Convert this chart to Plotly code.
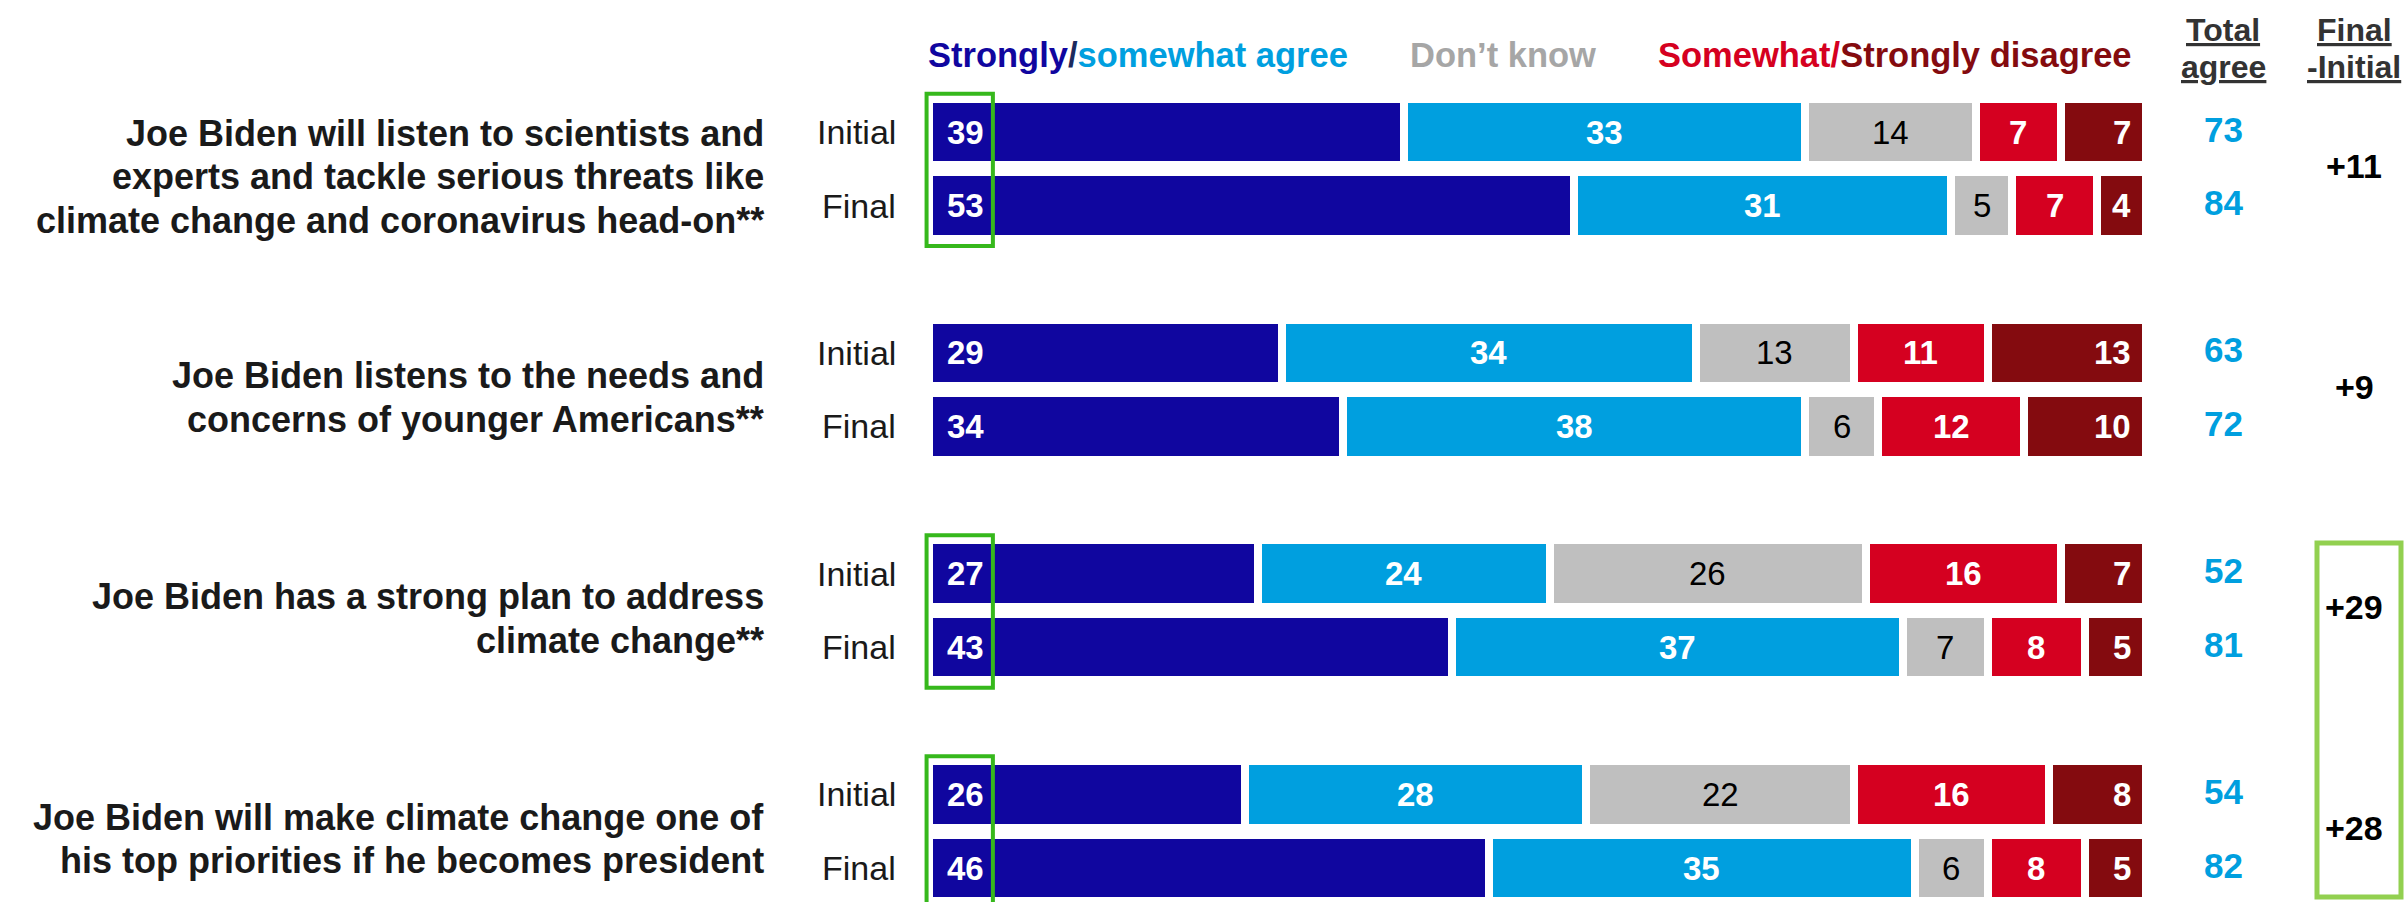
import plotly.graph_objects as go

# ---------------- data ----------------
questions = [
    "Joe Biden will listen to scientists and<br>experts and tackle serious threats like<br>climate change and coronavirus head-on**",
    "Joe Biden listens to the needs and<br>concerns of younger Americans**",
    "Joe Biden has a strong plan to address<br>climate change**",
    "Joe Biden will make climate change one of<br>his top priorities if he becomes president",
]
waves = ["Initial", "Final"]

strongly_agree = [39, 53, 29, 34, 27, 43, 26, 46]
somewhat_agree = [33, 31, 34, 38, 24, 37, 28, 35]
dont_know = [14, 5, 13, 6, 26, 7, 22, 6]
somewhat_disagree = [7, 7, 11, 12, 16, 8, 16, 8]
strongly_disagree = [7, 4, 13, 10, 7, 5, 8, 5]
total_agree = [73, 84, 63, 72, 52, 81, 54, 82]
change = ["+11", "+9", "+29", "+28"]
highlight = [True, False, True, True]

# ---------------- style ----------------
W, H = 2405, 902
FONT = "Liberation Sans, Arial, sans-serif"
C_DBLUE = "#10069F"
C_LBLUE = "#009FDF"
C_GRAY = "#BFBFBF"
C_RED = "#D50020"
C_DRED = "#840B0F"
C_TXT = "#1A1A1A"

# layout geometry (pixel -> data)
X0_PX, X_SCALE = 929.0, 12.17
Y0_PX, Y_SCALE = 132.0, 73.6


def px2paper_x(px):
    return px / W


def px2paper_y(py):
    return 1 - py / H


# bar positions: groups of two bars
ypos = []
for g in range(len(questions)):
    for w in range(len(waves)):
        ypos.append(g * 3 + w)

series = [
    ("Strongly agree", strongly_agree, C_DBLUE, "white", True, "start"),
    ("Somewhat agree", somewhat_agree, C_LBLUE, "white", True, "middle"),
    ("Don't know", dont_know, C_GRAY, "black", False, "middle"),
    ("Somewhat disagree", somewhat_disagree, C_RED, "white", True, "middle"),
    ("Strongly disagree", strongly_disagree, C_DRED, "white", True, "end"),
]

fig = go.Figure()
ann = []
cum = [0] * len(ypos)
for name, vals, col, tcol, bold, anchor in series:
    fig.add_trace(go.Bar(
        name=name, x=vals, y=ypos, orientation="h", width=0.9,
        marker=dict(color=col, line=dict(color="white", width=8)),
        hoverinfo="skip",
    ))
    for i, v in enumerate(vals):
        txt = f"<b>{v}</b>" if bold else str(v)
        if anchor == "start":
            xx, xa, xs = cum[i], "left", 16
        elif anchor == "end":
            xx, xa, xs = cum[i] + v, "right", -13
        else:
            xx, xa, xs = cum[i] + v / 2, "center", 0
        ann.append(dict(xref="x", yref="y", x=xx, y=ypos[i], xanchor=xa, yanchor="middle",
                        xshift=xs, showarrow=False, text=txt,
                        font=dict(family=FONT, size=33, color=tcol)))
        cum[i] += v

# wave labels and total agree
for i, y in enumerate(ypos):
    ypx = Y0_PX + y * Y_SCALE
    ann.append(dict(xref="paper", yref="paper", x=px2paper_x(898), y=px2paper_y(ypx),
                    xanchor="right", yanchor="middle", showarrow=False,
                    text=waves[i % 2], font=dict(family=FONT, size=34, color=C_TXT)))
    ann.append(dict(xref="paper", yref="paper", x=px2paper_x(2223), y=px2paper_y(ypx - 3),
                    xanchor="center", yanchor="middle", showarrow=False,
                    text=f"<b>{total_agree[i]}</b>", font=dict(family=FONT, size=35, color=C_LBLUE)))

# question labels (one annotation per line) and change values
for g, q in enumerate(questions):
    center_px = Y0_PX + (g * 3 + 0.5) * Y_SCALE + 8
    lines = q.split("<br>")
    n = len(lines)
    for k, line in enumerate(lines):
        lp = center_px + (k - (n - 1) / 2) * 43.5
        ann.append(dict(xref="paper", yref="paper", x=px2paper_x(766), y=px2paper_y(lp),
                        xanchor="right", yanchor="middle", showarrow=False,
                        text=f"<b>{line}</b>", font=dict(family=FONT, size=36, color=C_TXT)))
    ann.append(dict(xref="paper", yref="paper", x=px2paper_x(2354),
                    y=px2paper_y(Y0_PX + (g * 3 + 0.5) * Y_SCALE - 3),
                    xanchor="center", yanchor="middle", showarrow=False,
                    text=f"<b>{change[g]}</b>", font=dict(family=FONT, size=34, color="black")))

# header legend
HF = 34.5
ann.append(dict(xref="paper", yref="paper", x=px2paper_x(926), y=px2paper_y(55),
                xanchor="left", yanchor="middle", showarrow=False,
                text=f"<b><span style='color:{C_DBLUE}'>Strongly</span><span style='color:#1B2A5E'>/</span><span style='color:{C_LBLUE}'>somewhat agree</span></b>",
                font=dict(family=FONT, size=HF)))
ann.append(dict(xref="paper", yref="paper", x=px2paper_x(1408), y=px2paper_y(55),
                xanchor="left", yanchor="middle", showarrow=False,
                text="<b>Don’t know</b>", font=dict(family=FONT, size=HF, color="#A6A6A6")))
ann.append(dict(xref="paper", yref="paper", x=px2paper_x(1656), y=px2paper_y(55),
                xanchor="left", yanchor="middle", showarrow=False,
                text=f"<b><span style='color:{C_RED}'>Somewhat/</span><span style='color:{C_DRED}'>Strongly disagree</span></b>",
                font=dict(family=FONT, size=HF)))
for xpx, (l1, l2) in [(2223, ("Total", "agree")), (2354, ("Final", "-Initial"))]:
    for ypx, t in [(30, l1), (67, l2)]:
        ann.append(dict(xref="paper", yref="paper", x=px2paper_x(xpx), y=px2paper_y(ypx),
                        xanchor="center", yanchor="middle", showarrow=False,
                        text=f"<b><u>{t}</u></b>", font=dict(family=FONT, size=32, color="#333333")))

shapes = []
for g, hl in enumerate(highlight):
    if hl:
        shapes.append(dict(type="rect", xref="x", yref="y",
                           x0=-0.2, x1=5.25, y0=g * 3 - 0.52, y1=g * 3 + 1.55,
                           line=dict(color="#36B81C", width=4), fillcolor="rgba(0,0,0,0)"))
shapes.append(dict(type="rect", xref="paper", yref="paper",
                   x0=px2paper_x(2317), x1=px2paper_x(2401),
                   y0=px2paper_y(897), y1=px2paper_y(543),
                   line=dict(color="#92D050", width=5), fillcolor="rgba(0,0,0,0)"))

fig.update_layout(
    width=W, height=H, barmode="stack", showlegend=False,
    margin=dict(l=0, r=0, t=0, b=0),
    paper_bgcolor="white", plot_bgcolor="white",
    xaxis=dict(range=[-X0_PX / X_SCALE, (W - X0_PX) / X_SCALE], visible=False, fixedrange=True),
    yaxis=dict(range=[(H - Y0_PX) / Y_SCALE, -Y0_PX / Y_SCALE], visible=False, fixedrange=True),
    annotations=ann, shapes=shapes,
)

fig.write_html("out.html", config={"displayModeBar": False},
               post_script="document.body.style.margin='0';document.body.style.overflow='hidden';")
